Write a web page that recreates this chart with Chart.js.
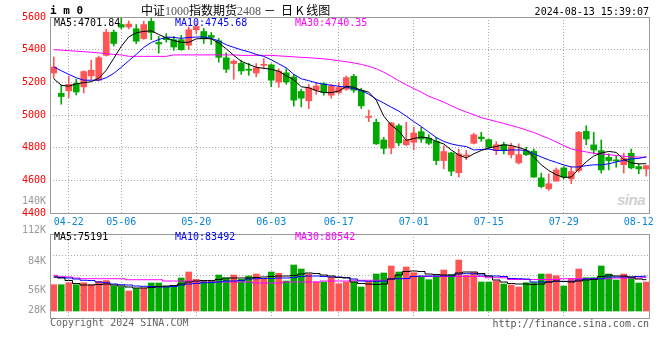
<!DOCTYPE html>
<html>
<head>
<meta charset="utf-8">
<script src="https://cdn.jsdelivr.net/npm/chart.js@4.4.1/dist/chart.umd.min.js"></script>
<style>
  html, body { margin: 0; padding: 0; background: #fff; }
  #wrap { position: relative; width: 660px; height: 360px; overflow: hidden; font-family: 'DejaVu Sans Mono', monospace; font-size: 10px; line-height: 12px; }
  #wrap canvas { position: absolute; left: 0; }
  .t { position: absolute; white-space: pre; }
  .r { text-align: right; }
  #logo { position: absolute; left: 617px; top: 191px; font: italic bold 15px 'Liberation Sans', sans-serif; color: #d0d0d0; letter-spacing: -0.5px; }
</style>
</head>
<body>
<div id="wrap">
  <div id="logo">sina</div>
  <canvas id="main" width="660" height="232" style="top:0"></canvas>
  <canvas id="vol" width="660" height="134" style="top:226px"></canvas>

  <div class="t" style="left:50px;top:5px;font-weight:bold;font-size:11px;">i m 0</div>
  <div class="t" style="left:141px;top:3px;font:12px/14px 'Noto Sans CJK SC',sans-serif;color:#000;">中证<span style="font-family:'Liberation Serif',serif;color:#555;">1000</span>指数期货<span style="font-family:'Liberation Serif',serif;color:#555;">2408</span> －  日 K 线图</div>
  <div class="t r" style="right:11px;top:6px;">2024-08-13 15:39:07</div>

  <div class="t" style="left:54px;top:17px;color:#000;">MA5:4701.84</div>
  <div class="t" style="left:175px;top:17px;color:#0000ff;">MA10:4745.68</div>
  <div class="t" style="left:295px;top:17px;color:#ff00ff;">MA30:4740.35</div>

  <div class="t" style="left:54px;top:231px;color:#000;">MA5:75191</div>
  <div class="t" style="left:175px;top:231px;color:#0000ff;">MA10:83492</div>
  <div class="t" style="left:295px;top:231px;color:#ff00ff;">MA30:80542</div>

  <div id="volTicks"></div>

  <div class="t" style="left:50px;top:317px;color:#666;">Copyright 2024 SINA.COM</div>
  <div class="t r" style="right:11px;top:318px;color:#555;">http://finance.sina.com.cn</div>
</div>
<script>
const dates = ['04-18','04-19','04-22','04-23','04-24','04-25','04-26','04-29','04-30',
  '05-06','05-07','05-08','05-09','05-10','05-13','05-14','05-15','05-16','05-17',
  '05-20','05-21','05-22','05-23','05-24','05-27','05-28','05-29','05-30','05-31',
  '06-03','06-04','06-05','06-06','06-07','06-11','06-12','06-13','06-14',
  '06-17','06-18','06-19','06-20','06-21','06-24','06-25','06-26','06-27','06-28',
  '07-01','07-02','07-03','07-04','07-05','07-08','07-09','07-10','07-11','07-12',
  '07-15','07-16','07-17','07-18','07-19','07-22','07-23','07-24','07-25','07-26',
  '07-29','07-30','07-31','08-01','08-02','08-05','08-06','08-07','08-08','08-09',
  '08-12','08-13'];

const opens = [5257,5133,5148,5193,5172,5239,5213,5365,5507,
  5554,5539,5528,5468,5573,5444,5473,5461,5461,5427,
  5522,5511,5487,5454,5350,5315,5316,5279,5257,5304,
  5307,5202,5258,5233,5144,5087,5152,5191,5121,
  5138,5158,5237,5152,4985,4955,4847,4798,4934,4818,
  4833,4898,4859,4839,4721,4768,4646,4749,4827,4865,
  4849,4782,4818,4757,4707,4782,4778,4615,4548,4595,
  4676,4609,4660,4900,4817,4782,4741,4723,4696,4766,
  4684,4670];
const highs = [5355,5184,5239,5219,5270,5335,5361,5524,5520,
  5600,5576,5554,5574,5595,5481,5498,5481,5487,5538,
  5559,5530,5505,5469,5380,5338,5335,5316,5315,5345,
  5313,5283,5283,5249,5158,5188,5199,5199,5188,
  5199,5239,5249,5164,5030,4975,4863,4955,4945,4955,
  4924,4924,4879,4863,4812,4772,4792,4782,4888,4894,
  4853,4837,4833,4827,4823,4802,4792,4644,4640,4676,
  4684,4680,4900,4934,4894,4847,4762,4751,4766,4792,
  4700,4691];
const lows = [5225,5066,5107,5123,5135,5219,5209,5361,5422,
  5528,5527,5437,5463,5461,5379,5446,5396,5396,5400,
  5498,5438,5432,5323,5260,5219,5249,5243,5233,5283,
  5173,5170,5188,5054,5050,5039,5127,5121,5103,
  5127,5152,5138,5040,4959,4820,4762,4762,4812,4812,
  4786,4833,4818,4696,4670,4629,4620,4727,4823,4839,
  4796,4757,4762,4737,4700,4751,4618,4554,4538,4594,
  4609,4579,4650,4818,4762,4644,4664,4680,4644,4670,
  4640,4626];
const closes = [5294,5113,5188,5141,5266,5274,5351,5507,5438,
  5538,5557,5452,5554,5505,5435,5461,5416,5400,5522,
  5542,5466,5475,5353,5280,5329,5270,5274,5289,5310,
  5213,5268,5202,5091,5103,5166,5178,5138,5178,
  5168,5229,5152,5056,4991,4823,4796,4951,4829,4849,
  4890,4853,4827,4721,4776,4656,4762,4755,4879,4855,
  4802,4818,4782,4806,4757,4757,4620,4562,4579,4664,
  4620,4654,4894,4853,4786,4664,4721,4719,4735,4676,
  4670,4690];

const ma5 = [5222,5182,5176,5191,5198,5204,5225,5274,5347,
  5420,5478,5503,5512,5515,5493,5472,5456,5445,5445,
  5466,5469,5466,5441,5405,5365,5329,5310,5292,5286,
  5280,5268,5240,5216,5173,5167,5149,5137,5137,
  5146,5176,5170,5152,5140,5091,4993,4938,4902,4845,
  4856,4865,4859,4838,4823,4786,4755,4737,4762,4783,
  4798,4807,4818,4813,4801,4786,4743,4695,4660,4634,
  4618,4620,4670,4713,4749,4767,4777,4771,4728,4707,
  4701,4702];
const ma10 = [5294,5271,5249,5228,5213,5213,5213,5228,5255,
  5292,5332,5371,5414,5444,5462,5477,5475,5469,5475,
  5477,5478,5469,5454,5430,5414,5399,5387,5371,5359,
  5338,5313,5289,5249,5222,5210,5197,5188,5182,
  5176,5170,5161,5149,5127,5097,5073,5048,5024,4993,
  4960,4929,4896,4862,4838,4823,4813,4807,4786,4789,
  4792,4783,4783,4786,4786,4783,4762,4743,4725,4710,
  4694,4682,4682,4690,4695,4695,4701,4713,4722,4731,
  4734,4745];
const ma30 = [5400,5397,5394,5391,5388,5384,5380,5376,5371,
  5368,5359,5359,5359,5359,5359,5359,5368,5368,5368,
  5368,5368,5368,5368,5368,5368,5365,5365,5365,5365,
  5365,5362,5359,5356,5353,5351,5347,5344,5339,
  5332,5326,5319,5310,5298,5283,5262,5237,5210,5185,
  5162,5140,5115,5097,5079,5057,5036,5018,5002,4984,
  4972,4960,4948,4935,4923,4908,4893,4874,4856,4835,
  4813,4792,4782,4774,4766,4762,4757,4752,4748,4743,
  4742,4740];

const volumes = [63120,63120,67920,63120,67920,63120,71280,73200,60000,
  57600,48000,54000,55200,67200,67200,59280,61680,79200,93600,
  76080,72000,71280,86400,79200,86400,76080,84000,88800,76080,
  93600,90480,72000,110400,100800,88800,69600,69600,80880,
  65520,69600,69600,57600,69600,88800,91200,108000,93600,105600,
  91920,81600,75120,84000,98400,87120,122400,85680,91920,69600,
  69600,72000,64800,62400,57600,67920,67920,88800,88800,84720,
  60000,77520,100800,79920,79920,108000,88800,74400,88800,79920,
  67200,69600];
const volMa5 = [81600,79200,73200,66000,62400,62400,63600,64800,62400,
  60000,57600,55200,55200,56400,58800,60000,61200,64800,69600,
  72000,73200,73200,75600,79200,79200,79200,79200,80400,81600,
  82800,84000,84000,85200,88800,91200,90000,86400,84000,
  80400,79200,69600,66000,64800,63600,64800,76800,86400,94800,
  96000,94800,88800,87600,86400,86400,91200,93600,93600,90000,
  84000,74400,69600,66000,64800,64800,63600,64800,69600,72000,
  70800,69600,72000,74400,75600,82800,86400,84000,84000,81600,
  76800,75191];
const volMa10 = [81600,80400,79200,76800,73700,73200,69600,67900,64800,
  63100,62400,60000,59300,58800,57600,57600,58800,62400,64800,
  66000,67900,68400,69600,72000,72000,73200,76800,77500,78000,
  78000,79200,79200,80400,82800,84000,84000,82800,81600,
  81600,80400,76800,72000,71300,71300,72000,76800,77500,78000,
  82800,84000,84000,84000,84000,84000,88800,89500,89500,86400,
  84000,84000,82800,78000,77500,76800,69600,69600,69600,71300,
  71300,71300,74400,76800,77500,77500,81600,81600,81600,81600,
  82800,83492];
const volMa30 = [85700,82300,81600,79200,77500,77500,77500,77500,77500,
  77500,75100,75100,75100,75100,75100,72000,72000,72000,72000,
  69600,69600,69600,69600,69600,69600,69600,69600,67200,67200,
  67200,67200,69600,69600,69600,69600,69600,72000,72000,
  72000,72000,73700,73700,73700,73700,73700,77500,77500,77500,
  82800,82800,82800,82800,82800,82800,82800,82800,82800,82800,
  79900,79900,79900,75600,75600,75600,75600,75600,75600,75600,
  77500,77500,77500,77500,77500,77500,77500,79200,79200,79200,
  79200,80542];

const dateTicks = ['04-22','05-06','05-20','06-03','06-17','07-01','07-15','07-29','08-12'];
const priceTicks = [4400,4600,4800,5000,5200,5400,5600];
const volTickLabels = ['112K','84K','56K','28K','140K'];

// ---- styling / layout ----
const RED = '#ff5555';
const GREEN = '#00a800';
const GRID = '#aaaaaa';
const FRAME = '#999999';

Chart.defaults.font.family = "'DejaVu Sans Mono', monospace";
Chart.defaults.font.size = 10;
Chart.defaults.animation = false;

const candleColor = closes.map((c, i) => c >= opens[i] ? RED : GREEN);

// volume tick labels sit at fixed spots on the left (as on the original)
const volTickY = [230, 261, 290, 310, 201];
document.getElementById('volTicks').innerHTML = volTickLabels.map((t, i) =>
  `<div class="t r" style="right:614px;top:${volTickY[i] - 6}px;color:#999;">${t}</div>`).join('');

const frame = {
  id: 'frame',
  afterDraw(chart) {
    const { ctx, chartArea: a } = chart;
    ctx.save();
    ctx.strokeStyle = FRAME;
    ctx.lineWidth = 1;
    ctx.strokeRect(a.left + 0.5, a.top + 0.5, a.right - a.left - 1, a.bottom - a.top);
    ctx.restore();
  }
};

function dateAxis(showLabels) {
  return {
    offset: true,
    afterBuildTicks: scale => {
      scale.ticks = scale.ticks.filter(t => dateTicks.includes(dates[t.value]));
    },
    afterFit: scale => { scale.height = showLabels ? 19 : 0; },
    grid: {
      offset: false,
      drawTicks: false,
      color: ctx => ctx.index === dateTicks.length - 1 ? 'rgba(0,0,0,0)' : GRID
    },
    border: { display: false, dash: [1, 2] },
    ticks: {
      display: showLabels,
      autoSkip: false,
      maxRotation: 0,
      padding: 3,
      color: '#0a86d8'
    }
  };
}

function lineSet(data, color, stepped) {
  return {
    type: 'line', data, borderColor: color, borderWidth: 1,
    pointRadius: 0, tension: 0, stepped: stepped ? 'middle' : false, order: 1
  };
}

new Chart(document.getElementById('main'), {
  type: 'bar',
  data: {
    labels: dates,
    datasets: [
      lineSet(ma5, '#000000'),
      lineSet(ma10, '#0000ff'),
      lineSet(ma30, '#ff00ff'),
      {
        data: opens.map((o, i) => [o, closes[i]]),
        backgroundColor: candleColor, barThickness: 6, minBarLength: 1,
        grouped: false, order: 2
      },
      {
        data: lows.map((l, i) => [l, highs[i]]),
        backgroundColor: candleColor, barThickness: 1,
        grouped: false, order: 3
      }
    ]
  },
  options: {
    responsive: false,
    devicePixelRatio: 1,
    layout: { padding: { top: 17, right: 10, bottom: 0, left: 0 } },
    plugins: { legend: { display: false }, tooltip: { enabled: false } },
    scales: {
      x: dateAxis(true),
      y: {
        min: 4400, max: 5600,
        afterBuildTicks: scale => { scale.ticks = priceTicks.map(v => ({ value: v })); },
        afterFit: scale => { scale.width = 50; },
        grid: {
          drawTicks: false,
          color: ctx => (ctx.tick && (ctx.tick.value === 4400 || ctx.tick.value === 5600)) ? 'rgba(0,0,0,0)' : GRID
        },
        border: { display: false, dash: [1, 2] },
        ticks: { color: '#ff0000', padding: 4, callback: v => String(v) }
      }
    }
  },
  plugins: [frame]
});

// volume panel: bars stand on 0, a little above the bottom frame
const volGrid = [38400, 86400, 134400];
new Chart(document.getElementById('vol'), {
  type: 'bar',
  data: {
    labels: dates,
    datasets: [
      lineSet(volMa5, '#000000', true),
      lineSet(volMa10, '#0000ff', true),
      lineSet(volMa30, '#ff00ff', true),
      {
        data: volumes,
        backgroundColor: candleColor, barThickness: 6,
        grouped: false, order: 2
      }
    ]
  },
  options: {
    responsive: false,
    devicePixelRatio: 1,
    layout: { padding: { top: 8, right: 10, bottom: 42, left: 0 } },
    plugins: { legend: { display: false }, tooltip: { enabled: false } },
    scales: {
      x: dateAxis(false),
      y: {
        min: -16800, max: 184800,
        afterBuildTicks: scale => { scale.ticks = volGrid.map(v => ({ value: v })); },
        afterFit: scale => { scale.width = 50; },
        grid: { drawTicks: false, color: GRID },
        border: { display: false, dash: [1, 2] },
        ticks: { display: false }
      }
    }
  },
  plugins: [frame]
});
</script>
</body>
</html>
